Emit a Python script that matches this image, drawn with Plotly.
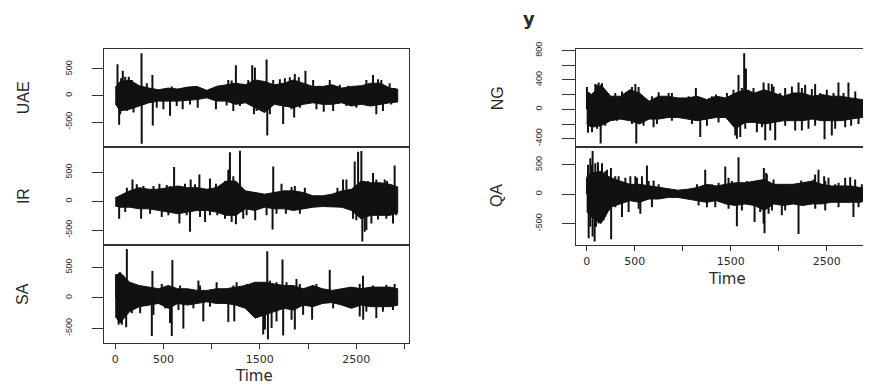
import plotly.graph_objects as go

# ---------------- data ----------------
BAND_T = [0, 50, 150, 250, 350, 450, 550, 650, 750, 850, 950, 1050, 1150, 1250, 1350,
          1450, 1550, 1650, 1750, 1850, 1950, 2050, 2150, 2250, 2350, 2450, 2550, 2650,
          2750, 2850, 2930]

UAE_HI = [150, 264, 294, 184, 141, 110, 141, 123, 159, 172, 98, 172, 202, 233, 202, 294,
          264, 202, 233, 294, 233, 172, 172, 202, 141, 172, 184, 233, 233, 141, 120]
UAE_LO = [-150, -288, -257, -196, -135, -104, -104, -104, -92, -74, -43, -104, -104, -165,
          -135, -227, -319, -165, -196, -227, -165, -135, -165, -165, -135, -196, -165,
          -196, -165, -135, -120]
UAE_SPIKE_T = [24, 41, 79, 141, 273, 275, 386, 390, 500, 569, 700, 856, 1045, 1173, 1225,
               1252, 1421, 1439, 1449, 1570, 1577, 1639, 1742, 1760, 1856, 1863, 1904, 1973,
               2053, 2163, 2225, 2260, 2605, 2674, 2708, 2760]
UAE_SPIKE_V = [588, -550, 466, 355, 797, -907, 386, -564, -257, -380, -257, -227, -257, 294,
               -288, 570, 570, -350, 527, 680, -748, 294, -533, 325, -410, 405, 343, 466,
               294, -306, 294, -288, 294, 386, -350, 294]
UAE_MINOR_T = [62, 104, 173, 207, 328, 587, 742, 1070, 1208, 1328, 1380, 1483, 1708, 1811,
               1932, 2122, 2329, 2415, 2536, 2726, 2846, 2898,
               52, 121, 190, 431, 638, 776, 1156, 1294, 1466, 1604, 1829, 1915, 2087, 2398,
               2501, 2777, 2863]
UAE_MINOR_V = [325, 355, 294, 233, 233, 172, 141, 184, 282, 221, 294, 264, 306, 343, 233,
               184, 202, 184, 172, 306, 233, 141,
               -350, -288, -319, -227, -196, -166, -184, -196, -288, -350, -257, -227, -257,
               -196, -227, -288, -166]

IR_HI = [60, 96, 181, 237, 209, 209, 237, 266, 237, 237, 209, 237, 350, 350, 181, 153, 124,
         153, 181, 181, 153, 96, 96, 124, 181, 209, 350, 322, 322, 294, 250]
IR_LO = [-80, -102, -102, -130, -130, -158, -186, -215, -186, -158, -158, -186, -243, -243,
         -130, -158, -102, -130, -130, -158, -130, -102, -90, -90, -102, -158, -300, -243,
         -243, -243, -200]
IR_SPIKE_T = [41, 179, 224, 269, 459, 569, 611, 666, 776, 783, 873, 932, 983, 1045, 1059,
              1173, 1190, 1252, 1294, 1363, 1452, 1632, 1639, 1725, 1770, 1863, 1915, 1967,
              2305, 2363, 2467, 2484, 2519, 2553, 2563, 2588, 2674, 2795, 2881, 2898]
IR_SPIKE_V = [-300, 379, 294, -300, 305, 265, 593, -384, -525, 379, 463, -356, 396, 305,
              -243, 548, 848, -395, 876, -243, -328, -486, 605, 305, -215, 265, -215, 237,
              237, 379, -300, 690, 860, 870, -695, -525, 492, 379, -384, 622]
IR_MINOR_T = [121, 293, 397, 535, 673, 724, 828, 1087, 1139, 1225, 1829, 2398, 2622, 2708,
              2819,
              104, 362, 483, 552, 742, 880, 983, 1139, 1208, 1328, 1570, 1673, 2501, 2605,
              2657, 2726, 2812, 2915]
IR_MINOR_V = [237, 265, 265, 282, 265, 305, 294, 265, 350, 435, 249, 379, 350, 379, 350,
              -186, -215, -271, -243, -243, -271, -243, -300, -356, -300, -243, -215, -328,
              -497, -384, -316, -300, -243]

SA_HI = [350, 417, 257, 203, 177, 150, 203, 150, 150, 123, 123, 150, 150, 177, 203, 257,
         257, 230, 203, 203, 150, 203, 150, 123, 150, 177, 150, 177, 177, 177, 150]
SA_LO = [-300, -412, -225, -144, -118, -91, -171, -91, -118, -91, -64, -91, -91, -118, -171,
         -332, -278, -225, -171, -198, -118, -144, -91, -75, -118, -171, -118, -144, -144,
         -144, -120]
SA_SPIKE_T = [10, 35, 121, 114, 386, 380, 569, 587, 593, 707, 863, 914, 1052, 1173, 1235,
              1259, 1456, 1535, 1577, 1584, 1735, 1742, 1863, 1880, 2042, 2087, 2225, 2570,
              2572, 2708, 2898]
SA_SPIKE_V = [390, -439, 803, -481, 444, -626, -412, -626, 620, -503, 284, -385, 257, -396,
              -385, 257, 246, -599, 765, -680, 631, -615, -519, 310, -358, 230, 460, 364,
              -358, -332, 230]
SA_MINOR_T = [52, 86, 155, 224, 483, 673, 880, 1225, 1363, 1501, 1604, 1673, 1777, 1915,
              2053, 2536, 2674, 2812,
              69, 173, 259, 397, 518, 656, 811, 983, 1294, 1466, 1553, 1622, 1673, 1829,
              1949, 2260, 2536, 2605, 2777, 2880]
SA_MINOR_V = [417, 364, 230, 203, 230, 203, 203, 203, 230, 203, 284, 257, 257, 230, 203,
              230, 203, 214,
              -439, -251, -251, -278, -171, -198, -171, -144, -144, -171, -519, -492, -385,
              -358, -278, -171, -305, -225, -225, -198]

NG_HI = [250, 200, 333, 178, 178, 266, 222, 111, 178, 178, 155, 155, 178, 133, 178, 155,
         222, 266, 222, 266, 222, 178, 222, 222, 178, 200, 178, 178, 155, 133, 120]
NG_LO = [-200, -244, -222, -155, -133, -155, -200, -133, -133, -111, -111, -133, -155, -133,
         -111, -111, -266, -178, -178, -200, -178, -155, -155, -155, -133, -155, -155, -155,
         -133, -111, -100]
NG_SPIKE_T = [3, 14, 125, 146, 160, 298, 368, 507, 517, 541, 697, 750, 854, 1138, 1183,
              1253, 1346, 1461, 1565, 1582, 1600, 1617, 1641, 1659, 1738, 1773, 1843, 1860,
              1929, 1964, 1947, 2068, 2207, 2242, 2276, 2311, 2380, 2478, 2502, 2554, 2623,
              2727, 2755, 2901]
NG_SPIKE_V = [302, -320, 364, -466, 355, 222, 244, 346, -466, 302, -244, 231, 222, 289,
              -377, -222, 200, 222, -400, 466, -377, 289, 764, 555, 289, -311, 364, -422,
              346, -422, 311, 289, 364, -289, 333, -266, 346, -408, 266, -355, 364, 364,
              -222, 333]
NG_MINOR_T = [90, 108, 194, 472, 680, 888, 1062, 1305, 1530, 1686, 1895, 2016, 2138, 2242,
              2346, 2433, 2572, 2676, 2798,
              56, 108, 194, 316, 472, 593, 732, 888, 1097, 1374, 1548, 1652, 1826, 1912,
              2068, 2172, 2380, 2589, 2693, 2832]
NG_MINOR_V = [346, 333, 222, 302, 178, 222, 178, 178, 266, 266, 355, 222, 311, 289, 275,
              222, 222, 222, 244,
              -311, -266, -222, -155, -200, -222, -200, -155, -200, -178, -355, -266, -244,
              -289, -222, -289, -222, -266, -244, -200]

QA_HI = [300, 361, 389, 278, 222, 167, 167, 139, 111, 83, 67, 83, 111, 167, 139, 167, 194,
         194, 222, 250, 167, 167, 167, 194, 222, 167, 139, 139, 139, 111, 100]
QA_LO = [-300, -389, -500, -222, -167, -111, -139, -83, -83, -56, -56, -83, -111, -139,
         -111, -167, -194, -167, -194, -278, -167, -194, -167, -194, -167, -167, -139, -139,
         -139, -139, -100]
QA_SPIKE_T = [21, 3, 56, 62, 83, 97, 118, 160, 177, 253, 255, 333, 368, 455, 524, 559, 576,
              628, 697, 1149, 1235, 1253, 1444, 1478, 1565, 1582, 1669, 1749, 1773, 1846,
              1853, 1870, 1895, 1947, 2033, 2207, 2235, 2328, 2380, 2415, 2474, 2519, 2589,
              2693, 2745, 2779, 2866]
QA_SPIKE_V = [-750, 278, 500, 734, -806, -556, 545, 528, -445, 445, -767, 306, -389, 306,
              278, -334, 306, 489, 234, 167, 417, -222, 472, 278, -545, 628, 222, -473, 139,
              445, -667, 361, -334, 250, -361, -678, 234, 167, 334, 417, 306, 278, 167, 278,
              289, -389, 167]
QA_MINOR_T = [14, 38, 90, 194, 212, 298, 403, 507, 646, 750, 1305, 1374, 1513, 1652, 1877,
              2068, 2277, 2364, 2485, 2624, 2797,
              38, 62, 125, 194, 229, 298, 437, 542, 680, 1166, 1340, 1478, 1617, 1808, 1843,
              1930, 2068, 2381, 2485, 2624, 2832]
QA_MINOR_V = [500, 611, 528, 389, 417, 306, 278, 306, 222, 167, 167, 195, 222, 167, 334,
              167, 195, 250, 222, 195, 250,
              -556, -723, -500, -389, -278, -222, -306, -250, -222, -195, -222, -250, -278,
              -306, -500, -278, -278, -250, -278, -222, -222]

X_TICKS = [0, 500, 1000, 1500, 2000, 2500, 3000]
X_TICK_TEXT = ["0", "500", "", "1500", "", "2500", ""]
Y_TICKS_500 = [-500, 0, 500]
Y_TICK_TEXT_500 = ["-500", "0", "500"]
NG_TICKS = [-400, -200, 0, 200, 400, 600, 800]
NG_TICK_TEXT = ["-400", "", "0", "", "400", "", "800"]

# ---------------- figure ----------------
# The page body has an 8 px margin, so the figure is drawn 8 px in from the corner.
OFF = 8
W, H = 871 - OFF, 385 - OFF
fig = go.Figure()

panels = [
    ("UAE", UAE_HI, UAE_LO, UAE_SPIKE_T + UAE_MINOR_T, UAE_SPIKE_V + UAE_MINOR_V, ""),
    ("IR", IR_HI, IR_LO, IR_SPIKE_T + IR_MINOR_T, IR_SPIKE_V + IR_MINOR_V, "2"),
    ("SA", SA_HI, SA_LO, SA_SPIKE_T + SA_MINOR_T, SA_SPIKE_V + SA_MINOR_V, "3"),
    ("NG", NG_HI, NG_LO, NG_SPIKE_T + NG_MINOR_T, NG_SPIKE_V + NG_MINOR_V, "4"),
    ("QA", QA_HI, QA_LO, QA_SPIKE_T + QA_MINOR_T, QA_SPIKE_V + QA_MINOR_V, "5"),
]

INK = "#111111"
for name, hi, lo, st, sv, sfx in panels:
    xa, ya = "x" + sfx, "y" + sfx
    fig.add_trace(go.Scatter(
        x=BAND_T + BAND_T[::-1], y=hi + lo[::-1], fill="toself", fillcolor=INK,
        mode="lines", line=dict(color=INK, width=1), xaxis=xa, yaxis=ya,
        hoverinfo="skip", showlegend=False, name=name))
    sx, sy = [], []
    for t, v in zip(st, sv):
        sx += [t, t, None]
        sy += [0, v, None]
    fig.add_trace(go.Scatter(
        x=sx, y=sy, mode="lines", line=dict(color=INK, width=2),
        xaxis=xa, yaxis=ya, hoverinfo="skip", showlegend=False, name=name))


def px_x(p):
    return (p - OFF) / W


def px_y(p):
    return 1 - (p - OFF) / H


LEFT_X = [px_x(104), px_x(409)]
RIGHT_X = [px_x(576), 1.0]
ROW1 = [px_y(142), px_y(42)]
ROW2 = [px_y(242), px_y(142)]
ROW3 = [px_y(342), px_y(242)]

LINE_C = "#333333"
TICK_FONT_X = dict(family="DejaVu Sans", size=11, color="#2a2a2a")
TICK_FONT_Y = dict(family="Liberation Sans", size=9, color="#2a2a2a")


def xax(domain, rng, anchor, bottom):
    d = dict(domain=domain, range=rng, anchor=anchor, showgrid=False, zeroline=False,
             showline=True, mirror=True, linecolor=LINE_C, linewidth=1.2, fixedrange=True)
    if bottom:
        d.update(ticks="outside", ticklen=5, tickwidth=1.2, tickcolor=LINE_C,
                 tickvals=X_TICKS, ticktext=X_TICK_TEXT, tickfont=TICK_FONT_X,
                 ticklabelstandoff=1)
    else:
        d.update(showticklabels=False, ticks="")
    return d


def yax(domain, rng, anchor, tv, tt, ticklen, mirror):
    return dict(domain=domain, range=rng, anchor=anchor, showgrid=False, zeroline=False,
                showline=True, mirror=mirror, linecolor=LINE_C, linewidth=1.2,
                ticks="outside", ticklen=ticklen, tickwidth=1.2, tickcolor=LINE_C,
                tickvals=tv, ticktext=tt, tickangle=-90, tickfont=TICK_FONT_Y,
                ticklabelstandoff=16, fixedrange=True)


fig.update_layout(
    width=W, height=H, margin=dict(l=0, r=0, t=0, b=0),
    paper_bgcolor="white", plot_bgcolor="white", showlegend=False,
    xaxis=xax(LEFT_X, [-116, 3047], "y", False),
    xaxis2=xax(LEFT_X, [-116, 3047], "y2", False),
    xaxis3=xax(LEFT_X, [-116, 3047], "y3", True),
    xaxis4=xax(RIGHT_X, [-111, 2962], "y4", False),
    xaxis5=xax(RIGHT_X, [-111, 2962], "y5", True),
    yaxis=yax(ROW1, [-969, 870], "x", Y_TICKS_500, Y_TICK_TEXT_500, 11, True),
    yaxis2=yax(ROW2, [-757, 938], "x2", Y_TICKS_500, Y_TICK_TEXT_500, 11, True),
    yaxis3=yax(ROW3, [-738, 867], "x3", Y_TICKS_500, Y_TICK_TEXT_500, 11, True),
    yaxis4=yax(ROW1, [-515, 817], "x4", NG_TICKS, NG_TICK_TEXT, 13, False),
    yaxis5=yax(ROW2, [-867, 800], "x5", Y_TICKS_500, Y_TICK_TEXT_500, 13, False),
)

TITLE_FONT = dict(family="Liberation Sans", size=16, color="#2a2a2a")
ann = []
for label, cx, cy in [("UAE", 23, 92), ("IR", 23, 192), ("SA", 23, 292),
                      ("NG", 497, 92), ("QA", 496, 192)]:
    ann.append(dict(text=label, x=px_x(cx), y=px_y(cy), xref="paper", yref="paper",
                    xanchor="center", yanchor="middle", textangle=-90, showarrow=False,
                    font=TITLE_FONT))
for cx, cy in [(253.5, 375.5), (727, 276.5)]:
    ann.append(dict(text="Time", x=px_x(cx), y=px_y(cy), xref="paper", yref="paper",
                    xanchor="center", yanchor="middle", showarrow=False, borderpad=0,
                    font=dict(family="DejaVu Sans", size=15, color="#2a2a2a")))
ann.append(dict(text="<b>y</b>", x=px_x(529), y=px_y(11), xref="paper", yref="paper",
                xanchor="center", yanchor="middle", showarrow=False,
                font=dict(family="DejaVu Sans", size=18, color="#2a2a2a")))
fig.update_layout(annotations=ann)

fig.write_html("out.html")
